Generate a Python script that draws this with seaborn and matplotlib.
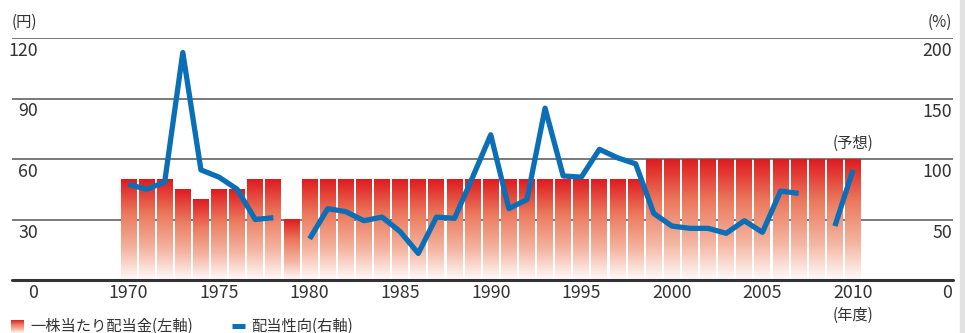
import numpy as np
import pandas as pd
import matplotlib
matplotlib.use("Agg")
import matplotlib.pyplot as plt
import matplotlib.transforms as mtransforms
from matplotlib.colors import LinearSegmentedColormap
from matplotlib.lines import Line2D
from matplotlib.patches import Rectangle
import seaborn as sns

# data
years = list(range(1970, 2011))
dividend = [50, 50, 50, 45, 40, 45, 45, 50, 50, 30,
            50, 50, 50, 50, 50, 50, 50, 50, 50, 50,
            50, 50, 50, 50, 50, 50, 50, 50, 50, 60,
            60, 60, 60, 60, 60, 60, 60, 60, 60, 60,
            60]
payout = [79, 75, 81, 188, 91, 85, 75, 50, 51.5, np.nan,
          34, 59, 56.5, 49, 52, 40, 22, 52, 51, 85,
          120, 59, 66.5, 142, 86, 85, 108, 101, 96, 55,
          44.6, 42.7, 42.7, 38.6, 49, 39.4, 73.5, 71.6, np.nan, 44.6,
          91]
xtick_years = [1970, 1975, 1980, 1985, 1990, 1995, 2000, 2005, 2010]
left_ticks = [0, 30, 60, 90, 120]
right_ticks = [0, 50, 100, 150, 200]

sns.set_theme(style="white")
plt.rcParams['font.family'] = ['Noto Sans CJK JP', 'DejaVu Sans']
txt = "#333333"
blue = "#0a6fb6"
red_cmap = LinearSegmentedColormap.from_list(
    "redfade", [(0, "#fefbfa"), (0.3, "#f4b6a2"), (0.65, "#eb7a5e"), (1, "#df1b1f")])

W, H = 965, 333
fig = plt.figure(figsize=(W / 100, H / 100), dpi=100)
ax = fig.add_axes([12 / W, 53 / H, 941 / W, 242 / H])

df = pd.DataFrame({"year": years, "dividend": dividend, "payout": payout})

# bars, then swap the flat colour for a vertical gradient
sns.barplot(data=df, x="year", y="dividend", native_scale=True, width=0.88,
            color="#e02020", ax=ax, zorder=2)
grad = np.linspace(0, 1, 256).reshape(-1, 1)
for p in list(ax.patches):
    x0, w, h = p.get_x(), p.get_width(), p.get_height()
    p.set_visible(False)
    ax.imshow(grad, extent=[x0, x0 + w, 0, h], origin="lower", cmap=red_cmap,
              aspect="auto", vmin=0, vmax=1, zorder=2)

# gridlines
for v in left_ticks[1:]:
    ax.axhline(v, color="#555555", lw=1.1, zorder=1)
ax.axhline(0, color="#333333", lw=2.2, zorder=3, clip_on=False)

ax.set_xlim(1963.57, 2015.52)
ax.set_ylim(0, 120)
ax.set_xticks(xtick_years)
ax.set_xticklabels([str(y) for y in xtick_years])
ax.tick_params(axis="x", length=0, pad=3, labelsize=12.8, labelcolor=txt)
ax.set_yticks([])
ax.set_xlabel("")
ax.set_ylabel("")
for s in ax.spines.values():
    s.set_visible(False)

# payout ratio on the right axis, broken at missing years
ax2 = ax.twinx()
df["seg"] = df["payout"].isna().cumsum()
for _, g in df.dropna(subset=["payout"]).groupby("seg"):
    sns.lineplot(data=g, x="year", y="payout", ax=ax2, color=blue, lw=3.8,
                 solid_capstyle="butt")
ax2.set_ylim(0, 200)
ax2.set_yticks([])
ax2.set_ylabel("")
for s in ax2.spines.values():
    s.set_visible(False)

# axis value labels sit just under each gridline
down = mtransforms.ScaledTranslation(0, -13 / 100, fig.dpi_scale_trans)
for v in left_ticks:
    ax.text((38 - 12) / 941, v, str(v), ha="right", va="center", fontsize=12.8,
            color=txt, transform=ax.get_yaxis_transform() + down)
for v in right_ticks:
    ax2.text((952 - 12) / 941, v, str(v), ha="right", va="center", fontsize=12.8,
             color=txt, transform=ax2.get_yaxis_transform() + down)

fig.text(12 / W, 1 - 22 / H, "(円)", ha="left", va="center", fontsize=11, color=txt)
fig.text(952 / W, 1 - 22 / H, "(%)", ha="right", va="center", fontsize=11, color=txt)
ax.text(2010, 68, "(予想)", ha="center", va="center", fontsize=11, color=txt)
ax.text(2010, 1 - 315 / H, "(年度)", ha="center", va="center", fontsize=11,
        color=txt, transform=mtransforms.blended_transform_factory(ax.transData, fig.transFigure))

# legend
lax = fig.add_axes([11 / W, 0, 13 / W, 13 / H])
lax.imshow(grad, origin="lower", cmap=red_cmap, aspect="auto", vmin=0, vmax=1)
lax.axis("off")
fig.text(30 / W, 7 / H, "一株当たり配当金(左軸)", ha="left", va="center", fontsize=11, color=txt)
fig.add_artist(Line2D([232 / W, 245 / W], [7 / H, 7 / H], color=blue, lw=3.6,
                      solid_capstyle="butt", transform=fig.transFigure))
fig.text(251 / W, 7 / H, "配当性向(右軸)", ha="left", va="center", fontsize=11, color=txt)

fig.add_artist(Rectangle((960 / W, 0), 5 / W, 1, color="#e2e2e2", transform=fig.transFigure))

fig.savefig("out.png", dpi=100)
